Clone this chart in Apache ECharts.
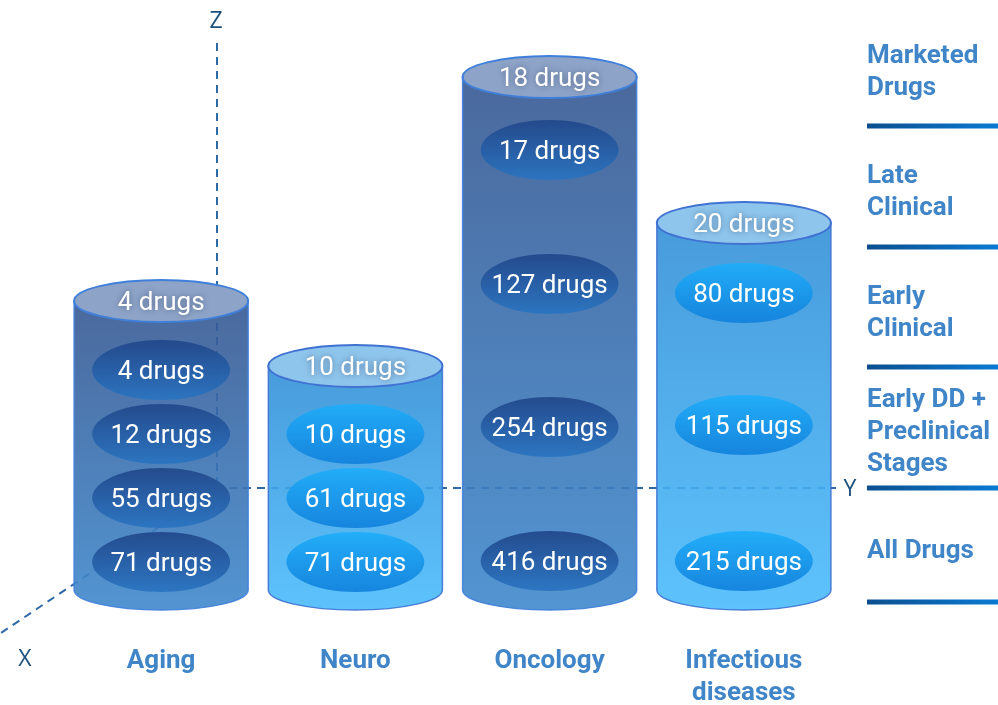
<!DOCTYPE html>
<html>
<head>
<meta charset="utf-8">
<script src="https://cdn.jsdelivr.net/npm/echarts@6/dist/echarts.min.js"></script>
<style>
html,body{margin:0;padding:0;background:#fff;}
#main{width:998px;height:705px;}
</style>
</head>
<body>
<div id="main"></div>
<script>
// ---- data ----
const categories = ['Aging', 'Neuro', 'Oncology', 'Infectious\ndiseases'];
const marketedDrugs = [4, 10, 18, 20];          // top cap labels
const cylinderHeights = [57.8, 44.8, 102.6, 73.4]; // height of each cylinder (level units)
const themes = ['dark', 'light', 'dark', 'light'];

const agingCounts = [4, 12, 55, 71];
const agingLevels = [44, 31.2, 18.4, 5.6];
const neuroCounts = [10, 61, 71];
const neuroLevels = [31.2, 18.4, 5.6];
const oncologyCounts = [17, 127, 254, 416];
const oncologyLevels = [88, 61.2, 32.6, 5.8];
const infectiousCounts = [80, 115, 215];
const infectiousLevels = [59.4, 33, 5.8];

const stageLabels = ['Marketed\nDrugs', 'Late\nClinical', 'Early\nClinical', 'Early DD +\nPreclinical\nStages', 'All Drugs'];
const axisNames = ['X', 'Y', 'Z'];

// ---- build ----
const G = echarts.graphic;
const palettes = {
  dark: {
    body: ['#365892', '#3f89cd'],
    cap: '#8da3c7',
    stroke: '#4080da',
    inner: ['#21478a', '#2a74c1']
  },
  light: {
    body: ['#3490d7', '#4bbcfc'],
    cap: '#8ec5ec',
    stroke: '#4072d2',
    inner: ['#1fadf9', '#1181dc']
  }
};

const cylData = categories.map((c, i) => [i, cylinderHeights[i], marketedDrugs[i]]);
const innerData = [];
[[agingCounts, agingLevels], [neuroCounts, neuroLevels], [oncologyCounts, oncologyLevels], [infectiousCounts, infectiousLevels]]
  .forEach((pair, i) => pair[0].forEach((cnt, k) => innerData.push([i, pair[1][k], cnt])));

const chart = echarts.init(document.getElementById('main'));
const labelFont = '26px Roboto';
const textDy = 2;

function renderCylinder(params, api) {
  const i = api.value(0);
  const top = api.coord([i, api.value(1)]);
  const base = api.coord([i, 0]);
  const band = api.size([1, 0])[0];
  const rx = band * 0.448;
  const ry = 21, ryb = 20;
  const cx = top[0];
  const pal = palettes[themes[i]];
  const d = 'M' + (cx - rx) + ' ' + top[1] + ' L' + (cx - rx) + ' ' + base[1] +
    ' A' + rx + ' ' + ryb + ' 0 0 0 ' + (cx + rx) + ' ' + base[1] +
    ' L' + (cx + rx) + ' ' + top[1] + ' Z';
  return {
    type: 'group',
    children: [
      {
        type: 'path',
        shape: { pathData: d },
        style: {
          fill: new G.LinearGradient(0, 0, 0, 1, [{ offset: 0, color: pal.body[0] }, { offset: 1, color: pal.body[1] }]),
          stroke: pal.stroke, lineWidth: 1.5, opacity: 0.9
        }
      },
      {
        type: 'ellipse',
        shape: { cx: cx, cy: top[1], rx: rx, ry: ry },
        style: { fill: pal.cap, stroke: pal.stroke, lineWidth: 2 }
      },
      {
        type: 'text',
        style: {
          text: api.value(2) + ' drugs', x: cx, y: top[1] + textDy, align: 'center', verticalAlign: 'middle',
          fill: '#ffffff', font: labelFont,
          textShadowColor: 'rgba(30,50,90,0.55)', textShadowBlur: 6
        }
      }
    ]
  };
}

function renderInner(params, api) {
  const i = api.value(0);
  const p = api.coord([i, api.value(1)]);
  const band = api.size([1, 0])[0];
  const rx = band * 0.355;
  const ry = 30;
  const pal = palettes[themes[i]];
  return {
    type: 'group',
    children: [
      {
        type: 'ellipse',
        shape: { cx: p[0], cy: p[1], rx: rx, ry: ry },
        style: {
          fill: new G.LinearGradient(0, 0, 0, 1, [{ offset: 0, color: pal.inner[0] }, { offset: 1, color: pal.inner[1] }]),
          opacity: 0.93
        }
      },
      {
        type: 'text',
        style: {
          text: api.value(2) + ' drugs', x: p[0], y: p[1] + textDy, align: 'center', verticalAlign: 'middle',
          fill: '#ffffff', font: labelFont
        }
      }
    ]
  };
}

const dash = { stroke: '#2f69a6', lineWidth: 2, lineDash: [8, 6] };
const origin = [217, 488];
const graphics = [
  { type: 'line', z: 0, shape: { x1: origin[0], y1: 43, x2: origin[0], y2: origin[1] }, style: dash },
  { type: 'line', z: 0, shape: { x1: origin[0] + 12, y1: origin[1], x2: 836, y2: origin[1] }, style: dash },
  { type: 'line', z: 0, shape: { x1: origin[0], y1: origin[1], x2: -8, y2: 639 }, style: dash },
  { type: 'text', z: 0, style: { text: axisNames[0], x: 25, y: 659, align: 'center', verticalAlign: 'middle', font: '23px "Open Sans", Roboto', fill: '#1b517c' } },
  { type: 'text', z: 0, style: { text: axisNames[1], x: 850, y: 489, align: 'center', verticalAlign: 'middle', font: '23px "Open Sans", Roboto', fill: '#1b517c' } },
  { type: 'text', z: 0, style: { text: axisNames[2], x: 216, y: 21, align: 'center', verticalAlign: 'middle', font: '23px "Open Sans", Roboto', fill: '#1b517c' } }
];
const stageCenters = [72, 192, 313, 432, 551];
const sepYs = [126, 247, 367, 488, 602];
stageLabels.forEach((t, k) => {
  graphics.push({
    type: 'text', z: 0,
    style: { text: t, x: 867, y: stageCenters[k], align: 'left', verticalAlign: 'middle', font: 'bold 26px Roboto', lineHeight: 32, fill: '#3f85c8' }
  });
});
sepYs.forEach(y => {
  graphics.push({
    type: 'rect', z: 0,
    shape: { x: 867, y: y - 2.5, width: 131, height: 5 },
    style: { fill: new G.LinearGradient(0, 0, 1, 0, [{ offset: 0, color: '#0b4f8e' }, { offset: 1, color: '#0a7ad3' }]) }
  });
});

chart.setOption({
  animation: false,
  backgroundColor: '#ffffff',
  grid: { left: 64, right: 157, top: 40, bottom: 115, containLabel: false, outerBoundsMode: 'none' },
  xAxis: {
    type: 'category',
    data: categories,
    axisLine: { show: false },
    axisTick: { show: false },
    axisLabel: { margin: 55, fontFamily: 'Roboto', fontWeight: 'bold', fontSize: 26, lineHeight: 32, color: '#3f85c8' }
  },
  yAxis: { type: 'value', min: 0, max: 110, show: false, splitLine: { show: false } },
  graphic: graphics,
  series: [
    { type: 'custom', z: 10, renderItem: renderCylinder, data: cylData },
    { type: 'custom', z: 11, renderItem: renderInner, data: innerData }
  ]
});
</script>
</body>
</html>
